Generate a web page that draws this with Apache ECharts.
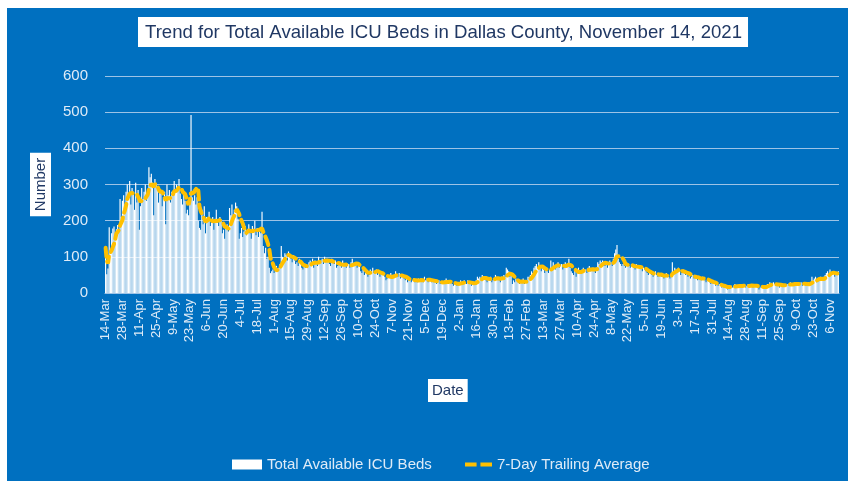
<!DOCTYPE html>
<html>
<head>
<meta charset="utf-8">
<script src="https://cdn.jsdelivr.net/npm/echarts@6/dist/echarts.min.js"></script>
<style>
  html, body { margin: 0; padding: 0; background: #ffffff; }
  #panel { position: absolute; left: 7px; top: 8px; width: 841px; height: 473px; background: #0070C0; }
  #main { position: absolute; left: 0; top: 0; width: 852px; height: 485px; }
</style>
</head>
<body>
<div id="panel"></div>
<div id="main"></div>
<script>
// daily available ICU beds (first day 14-Mar-2020)
var startDate = new Date(2020, 2, 14);
var mar2020 = [125, 52, 68, 182, 118, 165, 178, 184, 150, 176, 188, 172, 260, 210, 255, 270, 245, 280];
var apr2020 = [300, 265, 310, 245, 290, 280, 230, 305, 250, 285, 175, 240, 290, 260, 280, 300, 255, 280, 348, 320, 330, 305, 215, 315, 300, 295, 250, 280, 285, 240];
var may2020 = [265, 280, 190, 300, 270, 285, 250, 280, 275, 310, 280, 300, 285, 315, 275, 260, 245, 280, 255, 220, 230, 215, 250, 492, 265, 255, 270, 245, 265, 200, 180];
var jun2020 = [175, 230, 190, 240, 165, 210, 200, 225, 185, 195, 210, 175, 205, 230, 195, 185, 210, 200, 165, 175, 150, 185, 190, 170, 235, 215, 245, 210, 230, 250];
var jul2020 = [240, 205, 150, 165, 180, 155, 170, 185, 160, 175, 190, 165, 150, 185, 175, 200, 160, 180, 155, 170, 165, 225, 130, 110, 125, 95, 100, 70, 55, 60, 65];
var aug2020 = [55, 60, 75, 65, 70, 80, 130, 100, 95, 110, 105, 90, 115, 100, 95, 85, 105, 90, 80, 85, 75, 95, 80, 70, 65, 75, 70, 80, 75, 85, 90];
var sep2020 = [80, 95, 70, 90, 85, 75, 100, 85, 90, 95, 80, 100, 85, 95, 90, 80, 75, 95, 85, 80, 90, 70, 75, 85, 80, 70, 90, 75, 80, 70];
var oct2020 = [75, 80, 70, 85, 95, 75, 80, 85, 70, 75, 80, 60, 55, 65, 50, 55, 60, 45, 50, 65, 60, 70, 55, 60, 65, 50, 55, 45, 60, 50, 55];
var nov2020 = [45, 35, 40, 50, 45, 55, 40, 50, 45, 60, 50, 45, 55, 40, 45, 50, 40, 35, 45, 30, 35, 40, 30, 35, 40, 30, 35, 30, 40, 35];
var dec2020 = [40, 35, 30, 45, 35, 40, 30, 35, 40, 30, 35, 30, 35, 25, 30, 35, 25, 30, 25, 30, 35, 40, 30, 25, 35, 30, 25, 20, 30, 25, 20];
var jan2021 = [25, 30, 35, 25, 30, 35, 30, 25, 35, 30, 25, 20, 30, 25, 30, 35, 45, 40, 45, 35, 50, 40, 45, 35, 30, 40, 35, 45, 30, 35, 40];
var feb2021 = [50, 45, 40, 35, 30, 45, 40, 50, 45, 70, 65, 60, 45, 50, 25, 35, 30, 40, 35, 30, 25, 35, 30, 40, 25, 35, 30, 45];
var mar2021 = [45, 50, 60, 55, 70, 75, 80, 70, 85, 75, 60, 70, 65, 55, 70, 60, 55, 65, 90, 70, 85, 75, 65, 80, 85, 70, 75, 80, 65, 70, 85];
var apr2021 = [80, 75, 95, 70, 60, 55, 50, 65, 45, 60, 70, 55, 60, 65, 70, 60, 65, 55, 70, 75, 60, 65, 70, 60, 55, 70, 85, 80, 90, 85];
var may2021 = [90, 80, 75, 85, 70, 80, 90, 85, 75, 95, 110, 120, 133, 95, 85, 80, 75, 80, 75, 70, 85, 80, 75, 70, 80, 75, 70, 65, 80, 70, 75];
var jun2021 = [70, 75, 60, 70, 65, 60, 55, 50, 60, 55, 50, 45, 55, 60, 50, 45, 50, 55, 45, 50, 40, 45, 55, 50, 45, 40, 50, 85, 60, 70];
var jul2021 = [65, 55, 70, 60, 50, 55, 65, 60, 50, 55, 45, 50, 40, 45, 50, 40, 45, 40, 35, 45, 40, 35, 45, 40, 35, 30, 35, 40, 30, 25, 30];
var aug2021 = [25, 30, 20, 25, 20, 25, 20, 15, 20, 15, 20, 15, 10, 20, 15, 20, 15, 20, 25, 15, 20, 15, 25, 20, 15, 20, 25, 15, 20, 25, 15];
var sep2021 = [20, 25, 15, 20, 25, 20, 15, 10, 15, 20, 15, 20, 15, 20, 25, 20, 30, 25, 20, 30, 25, 20, 25, 20, 15, 25, 20, 25, 20, 25];
var oct2021 = [20, 25, 20, 30, 25, 20, 25, 30, 25, 20, 30, 25, 30, 20, 25, 30, 20, 25, 30, 20, 25, 45, 35, 40, 45, 30, 40, 35, 45, 40, 35];
var nov2021 = [45, 50, 55, 60, 50, 65, 55, 50, 60, 45, 55, 50, 60];

var beds = [].concat(mar2020, apr2020, may2020, jun2020, jul2020, aug2020, sep2020, oct2020,
  nov2020, dec2020, jan2021, feb2021, mar2021, apr2021, may2021, jun2021, jul2021, aug2021,
  sep2021, oct2021, nov2021);

var monthNames = ['Jan','Feb','Mar','Apr','May','Jun','Jul','Aug','Sep','Oct','Nov','Dec'];
var dates = [];
for (var i = 0; i < beds.length; i++) {
  var d = new Date(startDate.getFullYear(), startDate.getMonth(), startDate.getDate() + i);
  dates.push(d.getDate() + '-' + monthNames[d.getMonth()]);
}

// 7-day trailing average of the bars
var avg7 = [];
for (var j = 0; j < beds.length; j++) {
  var s = 0, n = 0;
  for (var k = Math.max(0, j - 6); k <= j; k++) { s += beds[k]; n++; }
  avg7.push(Math.round(s / n * 10) / 10);
}

var lightText = '#DEEBF7';
var gridColor = '#9DC3E6';
var font = 'Liberation Sans';

var myChart = echarts.init(document.getElementById('main'));
var option = {
  backgroundColor: 'transparent',
  animation: false,
  textStyle: { fontFamily: font },
  title: [{
    text: 'Trend for Total Available ICU Beds in Dallas County, November 14, 2021',
    left: 138,
    top: 17,
    backgroundColor: '#ffffff',
    padding: [6, 6, 5, 7],
    textStyle: { color: '#203864', fontSize: 18.6, fontWeight: 'normal', fontFamily: font }
  }, {
    text: 'Date',
    left: 428,
    top: 379,
    backgroundColor: '#ffffff',
    padding: [4, 4, 4, 4],
    textStyle: { color: '#203864', fontSize: 15, fontWeight: 'normal', fontFamily: font }
  }],
  legend: [{
    left: 227,
    top: 452,
    itemWidth: 30,
    itemHeight: 10,
    icon: 'rect',
    textStyle: { color: lightText, fontSize: 15, fontFamily: font },
    data: ['Total Available ICU Beds']
  }, {
    left: 460,
    top: 452,
    itemWidth: 27,
    itemHeight: 4,
    icon: 'path://M0,0h12v4h-12z M16,0h12v4h-12z',
    itemStyle: { color: '#FFC000' },
    textStyle: { color: lightText, fontSize: 15, fontFamily: font },
    data: ['7-Day Trailing Average']
  }],
  grid: { left: 105, right: 13, top: 76, bottom: 192 },
  xAxis: {
    type: 'category',
    data: dates,
    axisLine: { lineStyle: { color: gridColor } },
    axisTick: { interval: 13, alignWithLabel: true, length: 5, lineStyle: { color: gridColor } },
    axisLabel: { interval: 13, rotate: 90, color: lightText, fontSize: 13, margin: 6, fontFamily: font }
  },
  yAxis: {
    type: 'value',
    min: 0,
    max: 600,
    interval: 100,
    name: 'Number',
    nameLocation: 'middle',
    nameRotate: 90,
    nameGap: 54,
    nameTextStyle: { color: '#203864', fontSize: 15, backgroundColor: '#ffffff', padding: [3, 5, 3, 5], fontFamily: font },
    axisLine: { show: false },
    axisTick: { show: false },
    axisLabel: { color: lightText, fontSize: 15, margin: 17, fontFamily: font },
    splitLine: { lineStyle: { color: gridColor, width: 1 } }
  },
  series: [{
    name: 'Total Available ICU Beds',
    type: 'bar',
    data: beds,
    barCategoryGap: '5%',
    itemStyle: { color: '#ffffff' }
  }, {
    name: '7-Day Trailing Average',
    type: 'line',
    data: avg7,
    showSymbol: false,
    symbol: 'none',
    z: 3,
    itemStyle: { color: '#FFC000' },
    lineStyle: { color: '#FFC000', width: 4, type: [9, 5], cap: 'round' }
  }]
};
myChart.setOption(option);
</script>
</body>
</html>
